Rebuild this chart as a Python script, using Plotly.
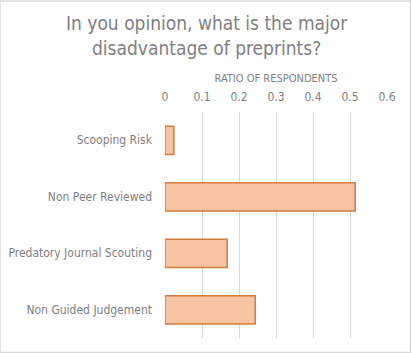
import plotly.graph_objects as go

categories = ["Scooping Risk", "Non Peer Reviewed", "Predatory Journal Scouting", "Non Guided Judgement"]
values = [0.024, 0.514, 0.168, 0.244]
tick_vals = [0, 0.1, 0.2, 0.3, 0.4, 0.5, 0.6]
tick_text = ["0", "0.1", "0.2", "0.3", "0.4", "0.5", "0.6"]
title_text = "In you opinion, what is the major<br>disadvantage of preprints?"

gray = "#808080"
font_family = "DejaVu Sans Condensed, DejaVu Sans, sans-serif"

fig = go.Figure()
fig.add_trace(go.Bar(
    y=categories, x=values, orientation="h",
    marker=dict(color="#f7c4a1", line=dict(color="#d47b3e", width=1.5)),
    width=0.5,
    hoverinfo="x+y",
))

fig.update_layout(
    width=412, height=353,
    margin=dict(l=165, r=25, t=112, b=15, autoexpand=False),
    paper_bgcolor="white", plot_bgcolor="white",
    font=dict(family=font_family, color=gray, size=12),
    showlegend=False,
    annotations=[dict(
        text=title_text, xref="paper", yref="paper",
        x=(207 - 165) / 222, y=1 + (112 - 10) / 226,
        xanchor="center", yanchor="top", showarrow=False,
        font=dict(size=19, color=gray, family=font_family),
    )],
    xaxis=dict(
        side="top", range=[0, 0.6], tickvals=tick_vals, ticktext=tick_text,
        showgrid=True, gridcolor="#d9d9d9", gridwidth=1,
        zeroline=False, showline=False, ticks="", automargin=False,
        ticklabelstandoff=8,
        tickfont=dict(size=12, color=gray),
        title=dict(text="RATIO OF RESPONDENTS", font=dict(size=11, color=gray), standoff=4),
    ),
    yaxis=dict(
        autorange="reversed", showgrid=False, zeroline=False, showline=False,
        ticks="", ticklabelstandoff=12, automargin=False,
        tickfont=dict(size=12, color=gray),
    ),
    shapes=[dict(type="rect", xref="paper", yref="paper",
                 x0=-165/222, x1=1 + 23.5/222, y0=-14.5/226, y1=1 + 111/226,
                 line=dict(color="#d9d9d9", width=1.5))],
)

fig.write_html("out.html")
